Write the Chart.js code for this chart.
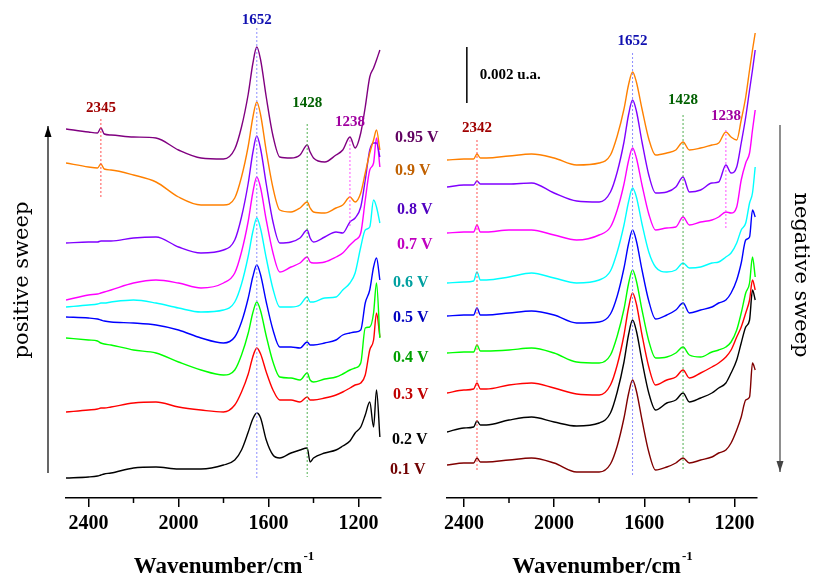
<!DOCTYPE html>
<html>
<head>
<meta charset="utf-8">
<script src="https://cdn.jsdelivr.net/npm/chart.js@4/dist/chart.umd.min.js"></script>
<style>
  body { margin: 0; background: #fff; }
  canvas { position: absolute; left: 0; top: 0; }
</style>
</head>
<body>
<canvas id="leftPanel" width="815" height="578"></canvas>
<canvas id="rightPanel" width="815" height="578"></canvas>
<script>
// wavenumbers (cm-1) where the traces were read, left panel = positive sweep
var L_WN = [2500, 2400, 2360, 2345, 2330, 2300, 2200, 2100, 2000, 1900, 1800, 1750, 1720, 1690, 1670, 1652, 1635, 1610, 1580, 1550, 1500, 1460, 1428, 1415, 1400, 1350, 1300, 1270, 1238, 1215, 1190, 1170, 1150, 1133, 1120, 1105];
// stacked offset units (downwards), one array per potential
var L_095 = [129,132,133,128,134,135,137,138,150,158,159,149,127,94,64,47,60,97,136,157,158,155,145,152,158,162,155,150,137,148,133,107,77,68,60,50];
var L_090 = [163,167,168,164,169,170,175,182,197,205,205,198,177,146,118,102,115,151,188,210,212,208,202,208,212,213,208,205,197,202,193,173,153,140,130,150];
var L_080 = [243,242,242,241,241,241,238,237,247,253,250,240,217,183,153,136,149,184,222,243,242,238,230,238,242,237,232,233,222,218,207,180,150,143,143,157];
var L_070 = [300,295,294,293,292,290,283,280,283,288,283,273,252,221,193,177,188,220,253,272,267,263,257,262,263,262,257,253,245,240,233,200,170,163,138,167];
var L_060 = [307,305,304,303,303,302,300,303,308,312,310,302,284,256,232,218,229,258,289,307,307,305,297,302,302,298,297,290,283,273,247,230,227,200,207,223];
var L_050 = [317,318,319,320,321,322,323,325,330,338,343,337,322,298,277,265,275,302,330,347,347,348,342,345,345,343,340,335,333,332,330,303,290,267,258,280];
var L_040 = [338,340,341,343,344,345,350,353,362,370,375,370,355,333,313,302,311,336,362,377,378,380,373,380,382,379,377,374,370,368,363,328,327,313,283,338];
var L_030 = [412,410,409,408,408,407,403,402,407,410,412,405,392,374,357,348,354,372,390,400,400,402,397,400,400,398,395,392,388,385,383,375,350,340,313,337];
var L_020 = [478,477,476,475,474,473,468,467,469,469,465,460,450,432,419,413,418,440,455,458,453,450,448,462,458,453,450,446,441,433,427,415,402,427,390,437];

// right panel = negative sweep
var R_WN = [2475, 2400, 2357, 2342, 2327, 2300, 2200, 2100, 2000, 1900, 1800, 1750, 1720, 1690, 1670, 1652, 1635, 1610, 1580, 1550, 1500, 1460, 1428, 1400, 1350, 1300, 1270, 1238, 1215, 1190, 1170, 1150, 1133, 1120, 1108];
var R_090 = [160,159,159,154,158,158,156,154,158,165,163,155,136,109,85,72,82,109,139,155,153,150,142,150,148,145,143,132,137,140,120,97,70,50,33];
var R_080 = [187,185,185,181,184,184,184,183,193,201,202,192,172,142,115,100,111,142,175,193,192,187,177,192,190,183,182,165,173,167,143,117,90,70,50];
var R_070 = [233,232,232,225,232,232,230,230,235,240,235,227,210,184,161,148,158,185,214,230,228,227,217,225,222,220,217,212,213,207,180,163,153,130,110];
var R_060 = [283,282,281,272,280,280,277,273,278,283,280,271,252,225,202,188,197,224,252,267,272,270,263,268,267,263,262,257,253,243,230,223,203,193,167];
var R_050 = [316,315,315,308,315,315,313,311,315,323,322,314,296,268,244,230,241,270,301,319,315,310,303,313,310,307,303,300,293,280,263,240,237,210,217];
var R_040 = [353,352,352,345,351,351,350,348,353,362,363,355,336,309,284,270,281,310,341,358,357,353,347,355,357,352,350,347,342,330,313,293,283,257,277];
var R_030 = [393,390,389,383,389,389,385,383,388,394,395,385,365,335,308,293,304,335,367,385,380,377,370,378,373,367,363,357,350,337,327,313,300,280,290];
var R_020 = [432,428,427,421,425,425,420,417,422,426,423,413,392,362,335,320,331,361,393,410,403,400,393,402,398,393,388,383,373,360,343,327,320,290,300];
var R_010 = [465,463,463,458,462,462,460,458,463,472,472,464,446,418,394,380,391,420,452,470,467,463,458,463,460,457,453,450,443,430,417,400,397,363,370];

// peak markers: wavenumber, dotted line span, label height
var L_PEAKS = [
  { wn: 1652, from: 28, to: 478, label: 20 },
  { wn: 2345, from: 119, to: 197, label: 108 },
  { wn: 1428, from: 124, to: 477, label: 103 },
  { wn: 1238, from: 140, to: 228, label: 122 }
];
var R_PEAKS = [
  { wn: 1652, from: 53, to: 477, label: 41 },
  { wn: 2342, from: 140, to: 470, label: 128 },
  { wn: 1428, from: 115, to: 470, label: 100 },
  { wn: 1238, from: 130, to: 228, label: 116 }
];
var PEAK_LINE = { 1652: '#8c8cff', 2345: '#ff5050', 2342: '#ff5050', 1428: '#50b050', 1238: '#ff50ff' };
var PEAK_TEXT = { 1652: '#1010b0', 2345: '#a00000', 2342: '#a00000', 1428: '#006000', 1238: '#a000a0' };

var POTENTIALS = ['0.95 V', '0.9 V', '0.8 V', '0.7 V', '0.6 V', '0.5 V', '0.4 V', '0.3 V', '0.2 V', '0.1 V'];
var POT_COLORS = ['#600060', '#c06000', '#5000c0', '#c000c0', '#00a0a0', '#0000c0', '#00a000', '#c00000', '#000000', '#700000'];
var POT_Y = [138, 171, 210, 245, 283, 318, 358, 395, 440, 470];
var POT_X = [395, 395, 397, 397, 393, 393, 393, 393, 392, 390];

var TICKS = [2400, 2000, 1600, 1200];
var MINOR = [2200, 1800, 1400];

// scale bar: 0.002 a.u. in offset units
var BAR_WN = 2387;
var BAR_Y = [47, 103];

function series(wn, vals, color) {
  return {
    data: wn.map(function(w, i) { return { x: w, y: vals[i] }; }),
    borderColor: color, borderWidth: 1.4, pointRadius: 0,
    cubicInterpolationMode: 'monotone', fill: false
  };
}
function markerSets(peaks) {
  return peaks.map(function(p) {
    return {
      data: [{ x: p.wn, y: p.from }, { x: p.wn, y: p.to }],
      borderColor: PEAK_LINE[p.wn], borderWidth: 1, borderDash: [2, 2],
      pointRadius: 0, fill: false
    };
  });
}

var SERIF = "'Liberation Serif', 'Times New Roman', serif";

function drawTitle(ctx, cx) {
  ctx.fillStyle = '#000';
  ctx.textBaseline = 'alphabetic';
  ctx.textAlign = 'left';
  ctx.font = 'bold 23px ' + SERIF;
  var main = 'Wavenumber/cm';
  var w1 = ctx.measureText(main).width;
  ctx.font = 'bold 13px ' + SERIF;
  var w2 = ctx.measureText('-1').width;
  var x0 = cx - (w1 + w2) / 2;
  ctx.font = 'bold 23px ' + SERIF;
  ctx.fillText(main, x0, 573);
  ctx.font = 'bold 13px ' + SERIF;
  ctx.fillText('-1', x0 + w1 + 1, 560);
}

function arrow(ctx, x, y1, y2, color) {
  ctx.strokeStyle = color; ctx.fillStyle = color; ctx.lineWidth = 1.2;
  ctx.beginPath(); ctx.moveTo(x, y1); ctx.lineTo(x, y2); ctx.stroke();
  var d = y2 < y1 ? 1 : -1;
  ctx.beginPath();
  ctx.moveTo(x, y2);
  ctx.lineTo(x - 3.5, y2 + d * 11);
  ctx.lineTo(x + 3.5, y2 + d * 11);
  ctx.closePath(); ctx.fill();
}

function sideText(ctx, text, x, y, angle) {
  ctx.save();
  ctx.translate(x, y);
  ctx.rotate(angle);
  ctx.fillStyle = '#000';
  ctx.font = "21px 'DejaVu Serif', serif";
  ctx.textAlign = 'center';
  ctx.textBaseline = 'middle';
  ctx.fillText(text, 0, 0);
  ctx.restore();
}

function decorPlugin(peaks, extra) {
  return {
    id: 'decor',
    afterDraw: function(chart) {
      var ctx = chart.ctx, xs = chart.scales.x, ys = chart.scales.y;
      ctx.save();
      // minor ticks
      ctx.strokeStyle = '#000'; ctx.lineWidth = 1.5;
      MINOR.forEach(function(v) {
        var px = xs.getPixelForValue(v);
        ctx.beginPath(); ctx.moveTo(px, chart.chartArea.bottom); ctx.lineTo(px, chart.chartArea.bottom + 5); ctx.stroke();
      });
      // peak labels
      ctx.font = 'bold 15px ' + SERIF;
      ctx.textAlign = 'center'; ctx.textBaseline = 'middle';
      peaks.forEach(function(p) {
        ctx.fillStyle = PEAK_TEXT[p.wn];
        ctx.fillText(String(p.wn), xs.getPixelForValue(p.wn), ys.getPixelForValue(p.label));
      });
      drawTitle(ctx, (chart.chartArea.left + chart.chartArea.right) / 2);
      extra(ctx, chart);
      ctx.restore();
    }
  };
}

function panelOptions(min, max, padL, padR) {
  return {
    responsive: false, animation: false, devicePixelRatio: 1,
    layout: { padding: { left: padL, right: padR, top: 0, bottom: 0 } },
    plugins: { legend: { display: false }, tooltip: { enabled: false } },
    scales: {
      x: {
        type: 'linear', reverse: true, min: min, max: max,
        afterBuildTicks: function(s) { s.ticks = TICKS.map(function(v) { return { value: v }; }); },
        afterFit: function(s) { s.height = 80; },
        grid: { display: true, drawOnChartArea: false, tickLength: 9, color: '#000', lineWidth: 1.5 },
        border: { display: true, color: '#000', width: 1.5 },
        ticks: {
          autoSkip: false, maxRotation: 0, padding: 5, color: '#000',
          font: { family: SERIF, size: 20, weight: 'bold' },
          callback: function(v) { return String(v); }
        }
      },
      y: { display: false, min: 0, max: 498, reverse: true }
    }
  };
}

var leftSets = [
  series(L_WN, L_095, '#800080'), series(L_WN, L_090, '#ff8000'), series(L_WN, L_080, '#8000ff'),
  series(L_WN, L_070, '#ff00ff'), series(L_WN, L_060, '#00ffff'), series(L_WN, L_050, '#0000ff'),
  series(L_WN, L_040, '#00ff00'), series(L_WN, L_030, '#ff0000'), series(L_WN, L_020, '#000000')
];
new Chart(document.getElementById('leftPanel'), {
  type: 'line',
  data: { datasets: markerSets(L_PEAKS).concat(leftSets) },
  options: panelOptions(1100, 2500, 66, 815 - 381),
  plugins: [decorPlugin(L_PEAKS, function(ctx) {
    arrow(ctx, 48, 473, 126, '#000');
    sideText(ctx, 'positive sweep', 23, 280, -Math.PI / 2);
  })]
});

var rightSets = [
  series(R_WN, R_090, '#ff8000'), series(R_WN, R_080, '#8000ff'), series(R_WN, R_070, '#ff00ff'),
  series(R_WN, R_060, '#00ffff'), series(R_WN, R_050, '#0000ff'), series(R_WN, R_040, '#00ff00'),
  series(R_WN, R_030, '#ff0000'), series(R_WN, R_020, '#000000'), series(R_WN, R_010, '#800000')
];
var barSet = {
  data: [{ x: BAR_WN, y: BAR_Y[0] }, { x: BAR_WN, y: BAR_Y[1] }],
  borderColor: '#000', borderWidth: 1.5, pointRadius: 0, fill: false
};
new Chart(document.getElementById('rightPanel'), {
  type: 'line',
  data: { datasets: markerSets(R_PEAKS).concat(rightSets, [barSet]) },
  options: panelOptions(1100, 2475, 447, 815 - 757),
  plugins: [decorPlugin(R_PEAKS, function(ctx, chart) {
    ctx.font = 'bold 15px ' + SERIF;
    ctx.textAlign = 'left'; ctx.textBaseline = 'middle';
    ctx.fillStyle = '#000';
    ctx.fillText('0.002 u.a.', chart.scales.x.getPixelForValue(BAR_WN) + 13, 75);
    ctx.font = 'bold 16px ' + SERIF;
    POTENTIALS.forEach(function(t, i) {
      ctx.fillStyle = POT_COLORS[i];
      ctx.fillText(t, POT_X[i], POT_Y[i]);
    });
    arrow(ctx, 780, 125, 472, '#444');
    sideText(ctx, 'negative sweep', 800, 275, Math.PI / 2);
  })]
});
</script>
</body>
</html>
